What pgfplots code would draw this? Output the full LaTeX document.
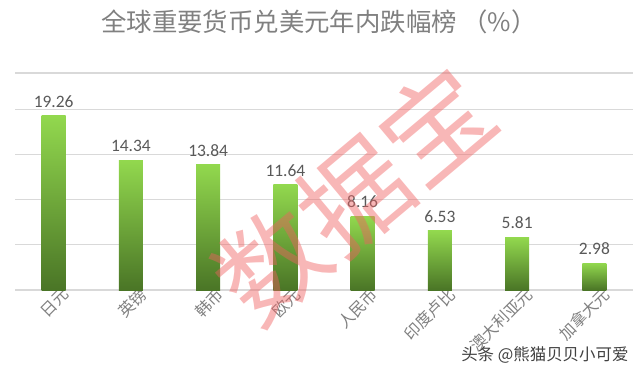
\documentclass[border=0pt]{standalone}
\usepackage{pgfplots}
\pgfplotsset{compat=1.18}
\usepackage{fontspec}
\setmainfont{Carlito}
\newfontfamily\cjk{Noto Sans CJK SC}
\definecolor{txtgray}{HTML}{808080}
\definecolor{valgray}{HTML}{595959}
\definecolor{gridgray}{HTML}{D9D9D9}
\definecolor{gtop}{HTML}{92D84E}
\definecolor{gbot}{HTML}{4A7526}
\definecolor{wm}{HTML}{F06060}
\begin{document}
\begin{tikzpicture}[x=1bp,y=1bp]
\useasboundingbox (0,0) rectangle (640,385);
\node[font=\cjk\fontsize{25.5}{28}\selectfont, text=txtgray] at (319,363) {全球重要货币兑美元年内跌幅榜 （\%）};
\begin{axis}[
  at={(15bp,95bp)}, anchor=south west,
  scale only axis, width=618bp, height=217bp,
  xmin=-0.5, xmax=7.5, ymin=0, ymax=24,
  axis line style={draw=none},
  major tick length=0pt,
  ytick={0,5,10,15,20,24}, yticklabels={},
  ymajorgrids, grid style={gridgray, line width=1.2bp},
  xtick={0,...,7},
  xticklabels={日元,英镑,韩币,欧元,人民币,印度卢比,澳大利亚元,加拿大元},
  xticklabel style={font=\cjk\fontsize{16}{18}\selectfont, text=txtgray, rotate=45, anchor=east, xshift=11bp, yshift=-10bp},
  ybar, bar width=24bp, bar shift=0pt,
  nodes near coords,
  nodes near coords style={font=\fontsize{17.5}{20}\selectfont, text=valgray, yshift=5bp},
  /pgf/number format/.cd, fixed, fixed zerofill, precision=2, assume math mode=true,
]
\addplot[draw=none, top color=gtop, bottom color=gbot] coordinates {(0,19.26)};
\addplot[draw=none, top color=gtop, bottom color=gbot] coordinates {(1,14.34)};
\addplot[draw=none, top color=gtop, bottom color=gbot] coordinates {(2,13.84)};
\addplot[draw=none, top color=gtop, bottom color=gbot] coordinates {(3,11.64)};
\addplot[draw=none, top color=gtop, bottom color=gbot] coordinates {(4,8.16)};
\addplot[draw=none, top color=gtop, bottom color=gbot] coordinates {(5,6.53)};
\addplot[draw=none, top color=gtop, bottom color=gbot] coordinates {(6,5.81)};
\addplot[draw=none, top color=gtop, bottom color=gbot] coordinates {(7,2.98)};
\end{axis}
\node[font=\cjk\fontsize{108}{110}\selectfont, text=wm, opacity=0.45, rotate=40] at (354,190) {数据宝};
\node[font=\cjk\fontsize{16.5}{18}\selectfont, text=black!75, anchor=east] at (632,30) {头条 @熊猫贝贝小可爱};
\end{tikzpicture}
\end{document}
